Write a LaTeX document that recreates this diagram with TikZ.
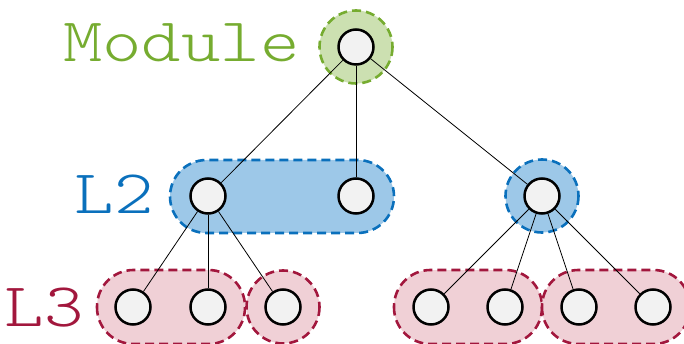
\documentclass[tikz,border=0pt]{standalone}
\usepackage{fontspec}
\newfontfamily\codefont[FakeStretch=1.21]{Latin Modern Mono Light}
\usetikzlibrary{positioning}
\definecolor{modG}{HTML}{76AC30}
\definecolor{modF}{HTML}{CCE0B1}
\definecolor{lvB}{HTML}{0A70BC}
\definecolor{lvF}{HTML}{9DC8E8}
\definecolor{lvR}{HTML}{A2173D}
\definecolor{lvP}{HTML}{F0D0D6}
\definecolor{nodeF}{HTML}{F2F2F2}

\begin{document}
\begin{tikzpicture}[x=1pt,y=-1pt,
  vtx/.style={circle,draw=black,line width=2.5pt,fill=nodeF,minimum size=35pt,inner sep=0pt},
  grp/.style={line width=2.6pt,dash pattern=on 9pt off 5pt,rounded corners=36.5pt},
  lbl/.style={font=\codefont\fontsize{62}{62}\selectfont,anchor=base east}]
  \useasboundingbox (0,0) rectangle (684,344);
  % groups
  \filldraw[grp,draw=modG,fill=modF] (356,47) circle (36.5);
  \filldraw[grp,draw=lvB,fill=lvF] (170,160) rectangle (394,233);
  \filldraw[grp,draw=lvB,fill=lvF] (542,196) circle (36.5);
  \filldraw[grp,draw=lvR,fill=lvP] (97,270) rectangle (245,344);
  \filldraw[grp,draw=lvR,fill=lvP] (283,307) circle (36.5);
  \filldraw[grp,draw=lvR,fill=lvP] (394,270) rectangle (542,344);
  \filldraw[grp,draw=lvR,fill=lvP] (542,270) rectangle (690,344);
  % labels
  \node[lbl,text=modG] (tmod) at (303,62) {Module};
  \node[lbl,text=lvB] (tl2) at (157,214) {L2};
  \node[lbl,text=lvR] (tl3) at (87,326) {L3};
  % vertices
  \node[vtx] (m) at (356,47) {};
  \node[vtx] (a) at (208,196) {};
  \node[vtx] (b) at (356,196) {};
  \node[vtx] (c) at (542,196) {};
  \foreach \n/\x in {a1/133,a2/208,a3/283,c1/431,c2/505,c3/579,c4/653}
    \node[vtx] (\n) at (\x,307) {};
  % edges
  \foreach \s/\t in {m/a,m/b,m/c,a/a1,a/a2,a/a3,c/c1,c/c2,c/c3,c/c4}
    \draw[line width=0.8pt] (\s) -- (\t);
\end{tikzpicture}
\end{document}
